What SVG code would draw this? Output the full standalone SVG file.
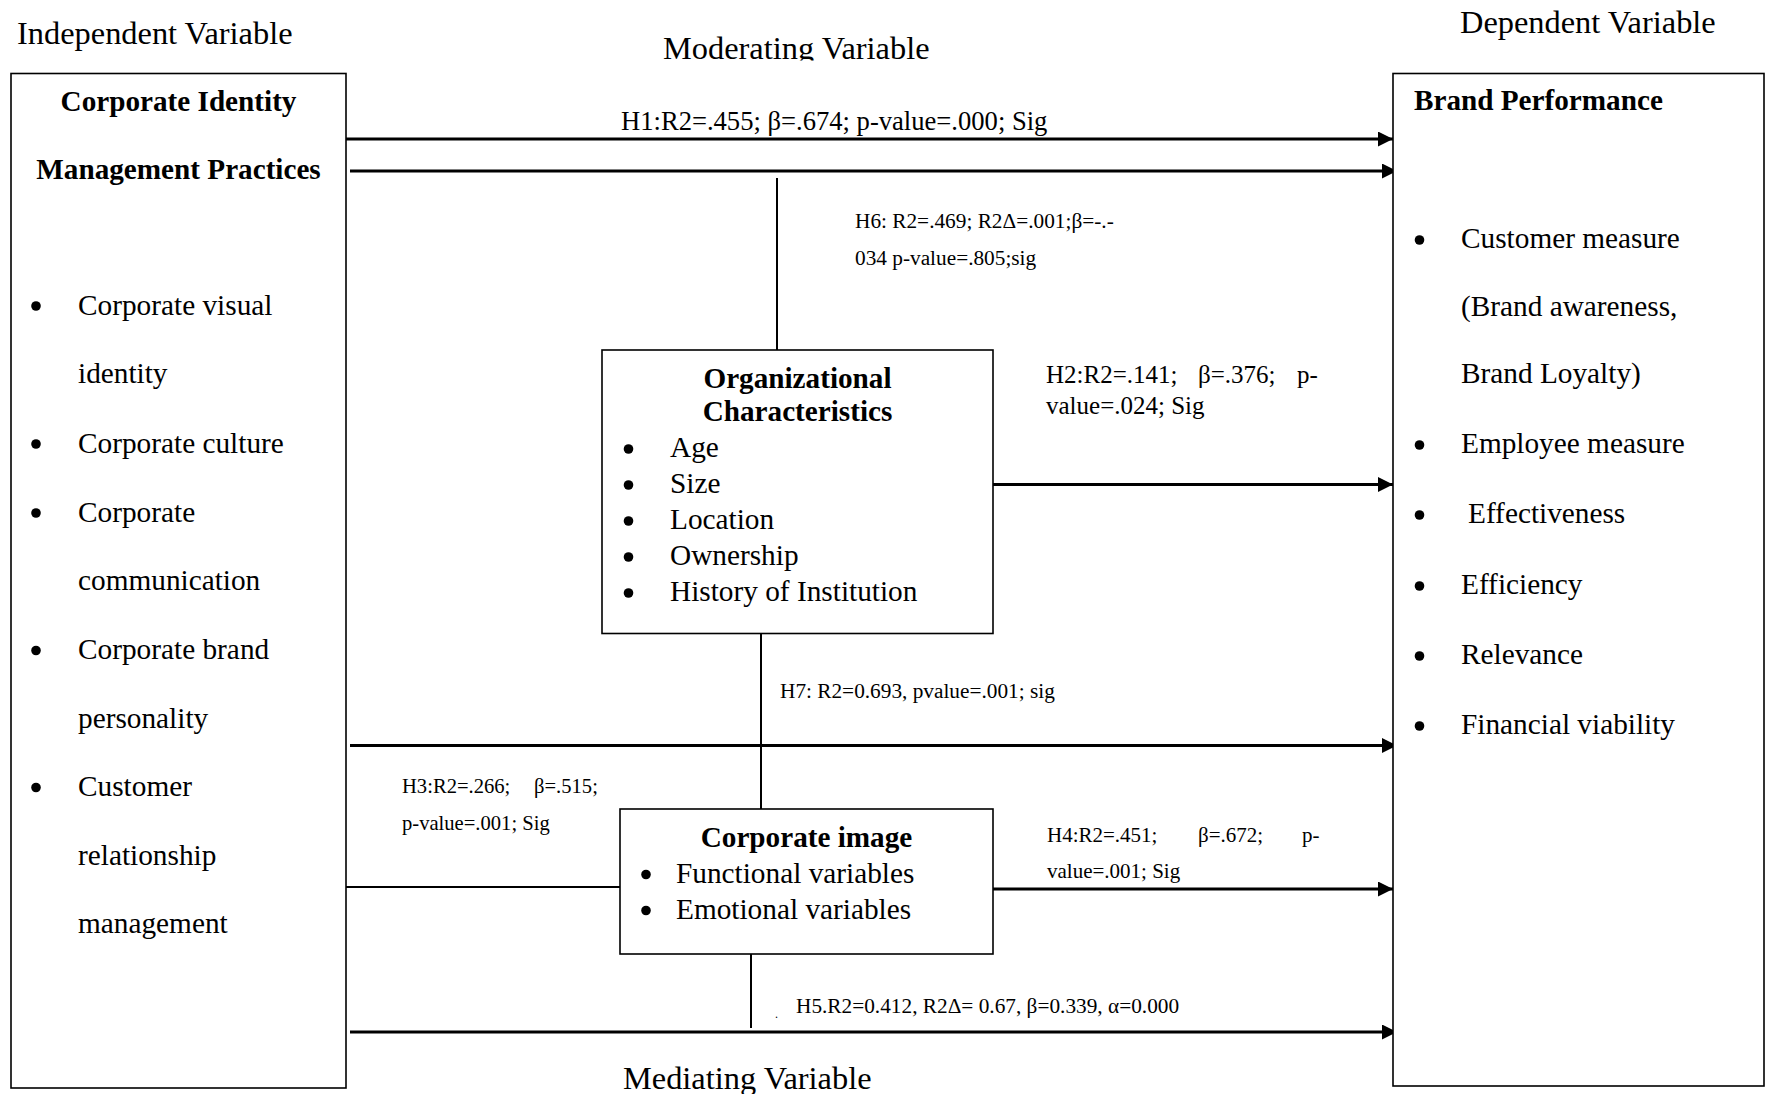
<svg xmlns="http://www.w3.org/2000/svg" width="1769" height="1094" viewBox="0 0 1769 1094">
  <style>
    text { font-family: "Liberation Serif", "Times New Roman", serif; fill: #000; }
    .hdr { font-size: 32.4px; }
    .body { font-size: 29.3px; }
    .title { font-size: 29.2px; font-weight: bold; }
    .stat { font-size: 21.3px; }
    .box { fill: #fff; stroke: #000; stroke-width: 1.6; }
    .arrow { fill: none; stroke: #000; stroke-width: 3; marker-end: url(#head); }
    .link { fill: none; stroke: #000; stroke-width: 2; }
    .dot { fill: #000; }
  </style>
  <defs>
    <marker id="head" markerUnits="userSpaceOnUse" markerWidth="15" markerHeight="15" refX="15" refY="7.5" orient="auto">
      <path d="M0,0 L15,7.5 L0,15 Z" fill="#000"/>
    </marker>
    <clipPath id="modClip">
      <rect x="600" y="0" width="400" height="60.5"/>
    </clipPath>
  </defs>

  <rect width="1769" height="1094" fill="#fff"/>

  <!-- Column headings -->
  <g id="headings">
    <text class="hdr" x="17" y="44">Independent Variable</text>
    <text class="hdr" x="663" y="58.5" clip-path="url(#modClip)">Moderating Variable</text>
    <text class="hdr" x="1460" y="32.5">Dependent Variable</text>
    <text class="hdr" x="623" y="1089">Mediating Variable</text>
  </g>

  <!-- Connectors and hypothesis results -->
  <g id="connectors">
    <path class="arrow" d="M346,139 H1393"/>
    <path class="arrow" d="M350,171 H1397"/>
    <path class="link" d="M777,178 V350"/>
    <path class="arrow" d="M993,484.5 H1393"/>
    <path class="link" d="M761,633 V809"/>
    <path class="arrow" d="M350,745.5 H1397"/>
    <path class="link" d="M346,887 H620"/>
    <path class="arrow" d="M993,889 H1393"/>
    <path class="link" d="M751,954 V1028"/>
    <path class="arrow" d="M350,1032 H1397"/>

    <text x="621" y="130" style="font-size:26.6px">H1:R2=.455; β=.674; p-value=.000; Sig</text>

    <text class="stat" x="855" y="228">H6: R2=.469; R2Δ=.001;β=-.-</text>
    <text class="stat" x="855" y="265">034 p-value=.805;sig</text>

    <g style="font-size:25px">
      <text x="1046" y="383">H2:R2=.141;</text>
      <text x="1198" y="383">β=.376;</text>
      <text x="1297" y="383">p-</text>
      <text x="1046" y="414">value=.024; Sig</text>
    </g>

    <text class="stat" x="780" y="698">H7: R2=0.693, pvalue=.001; sig</text>

    <g style="font-size:20.6px">
      <text x="402" y="793">H3:R2=.266;</text>
      <text x="534" y="793">β=.515;</text>
      <text x="402" y="830">p-value=.001; Sig</text>
    </g>

    <g style="font-size:21px">
      <text x="1047" y="842">H4:R2=.451;</text>
      <text x="1198" y="842">β=.672;</text>
      <text x="1302" y="842">p-</text>
      <text x="1047" y="878">value=.001; Sig</text>
    </g>

    <text x="775" y="1018" style="font-size:12px">.</text>
    <text class="stat" x="796" y="1013">H5.R2=0.412, R2Δ= 0.67, β=0.339, α=0.000</text>
  </g>

  <!-- Independent variable -->
  <g id="identity-practices">
    <rect class="box" x="11" y="73.5" width="335" height="1014.5"/>
    <text class="title" x="178.5" y="111" text-anchor="middle">Corporate Identity</text>
    <text class="title" x="178.5" y="179" text-anchor="middle">Management Practices</text>
    <circle class="dot" cx="36" cy="306" r="4.8"/>
    <text class="body" x="78" y="314.5">Corporate visual</text>
    <text class="body" x="78" y="383">identity</text>
    <circle class="dot" cx="36" cy="444" r="4.8"/>
    <text class="body" x="78" y="452.5">Corporate culture</text>
    <circle class="dot" cx="36" cy="513" r="4.8"/>
    <text class="body" x="78" y="521.5">Corporate</text>
    <text class="body" x="78" y="590">communication</text>
    <circle class="dot" cx="36" cy="650.5" r="4.8"/>
    <text class="body" x="78" y="659">Corporate brand</text>
    <text class="body" x="78" y="727.5">personality</text>
    <circle class="dot" cx="36" cy="787.5" r="4.8"/>
    <text class="body" x="78" y="796">Customer</text>
    <text class="body" x="78" y="864.5">relationship</text>
    <text class="body" x="78" y="933">management</text>
  </g>

  <!-- Moderating variable -->
  <g id="organizational-characteristics">
    <rect class="box" x="602" y="350" width="391" height="283.5"/>
    <text class="title" x="797.5" y="388" text-anchor="middle">Organizational</text>
    <text class="title" x="797.5" y="421" text-anchor="middle">Characteristics</text>
    <circle class="dot" cx="628.5" cy="449" r="4.8"/>
    <text class="body" x="670" y="457">Age</text>
    <circle class="dot" cx="628.5" cy="485" r="4.8"/>
    <text class="body" x="670" y="493">Size</text>
    <circle class="dot" cx="628.5" cy="521" r="4.8"/>
    <text class="body" x="670" y="529">Location</text>
    <circle class="dot" cx="628.5" cy="557" r="4.8"/>
    <text class="body" x="670" y="565">Ownership</text>
    <circle class="dot" cx="628.5" cy="593" r="4.8"/>
    <text class="body" x="670" y="601">History of Institution</text>
  </g>

  <!-- Mediating variable -->
  <g id="corporate-image">
    <rect class="box" x="620" y="809" width="373" height="145"/>
    <text class="title" x="806.5" y="846.5" text-anchor="middle">Corporate image</text>
    <circle class="dot" cx="646" cy="874.5" r="4.8"/>
    <text class="body" x="676" y="882.5">Functional variables</text>
    <circle class="dot" cx="646" cy="910.5" r="4.8"/>
    <text class="body" x="676" y="918.5">Emotional variables</text>
  </g>

  <!-- Dependent variable -->
  <g id="brand-performance">
    <rect class="box" x="1393" y="73.5" width="371" height="1012.5"/>
    <text class="title" x="1414" y="110">Brand Performance</text>
    <circle class="dot" cx="1419.5" cy="240" r="4.8"/>
    <text class="body" x="1461" y="248">Customer measure</text>
    <text class="body" x="1461" y="315.5">(Brand awareness,</text>
    <text class="body" x="1461" y="382.5">Brand Loyalty)</text>
    <circle class="dot" cx="1419.5" cy="445" r="4.8"/>
    <text class="body" x="1461" y="453">Employee measure</text>
    <circle class="dot" cx="1419.5" cy="515" r="4.8"/>
    <text class="body" x="1468" y="523">Effectiveness</text>
    <circle class="dot" cx="1419.5" cy="586" r="4.8"/>
    <text class="body" x="1461" y="594">Efficiency</text>
    <circle class="dot" cx="1419.5" cy="656" r="4.8"/>
    <text class="body" x="1461" y="664">Relevance</text>
    <circle class="dot" cx="1419.5" cy="726" r="4.8"/>
    <text class="body" x="1461" y="734">Financial viability</text>
  </g>
</svg>
